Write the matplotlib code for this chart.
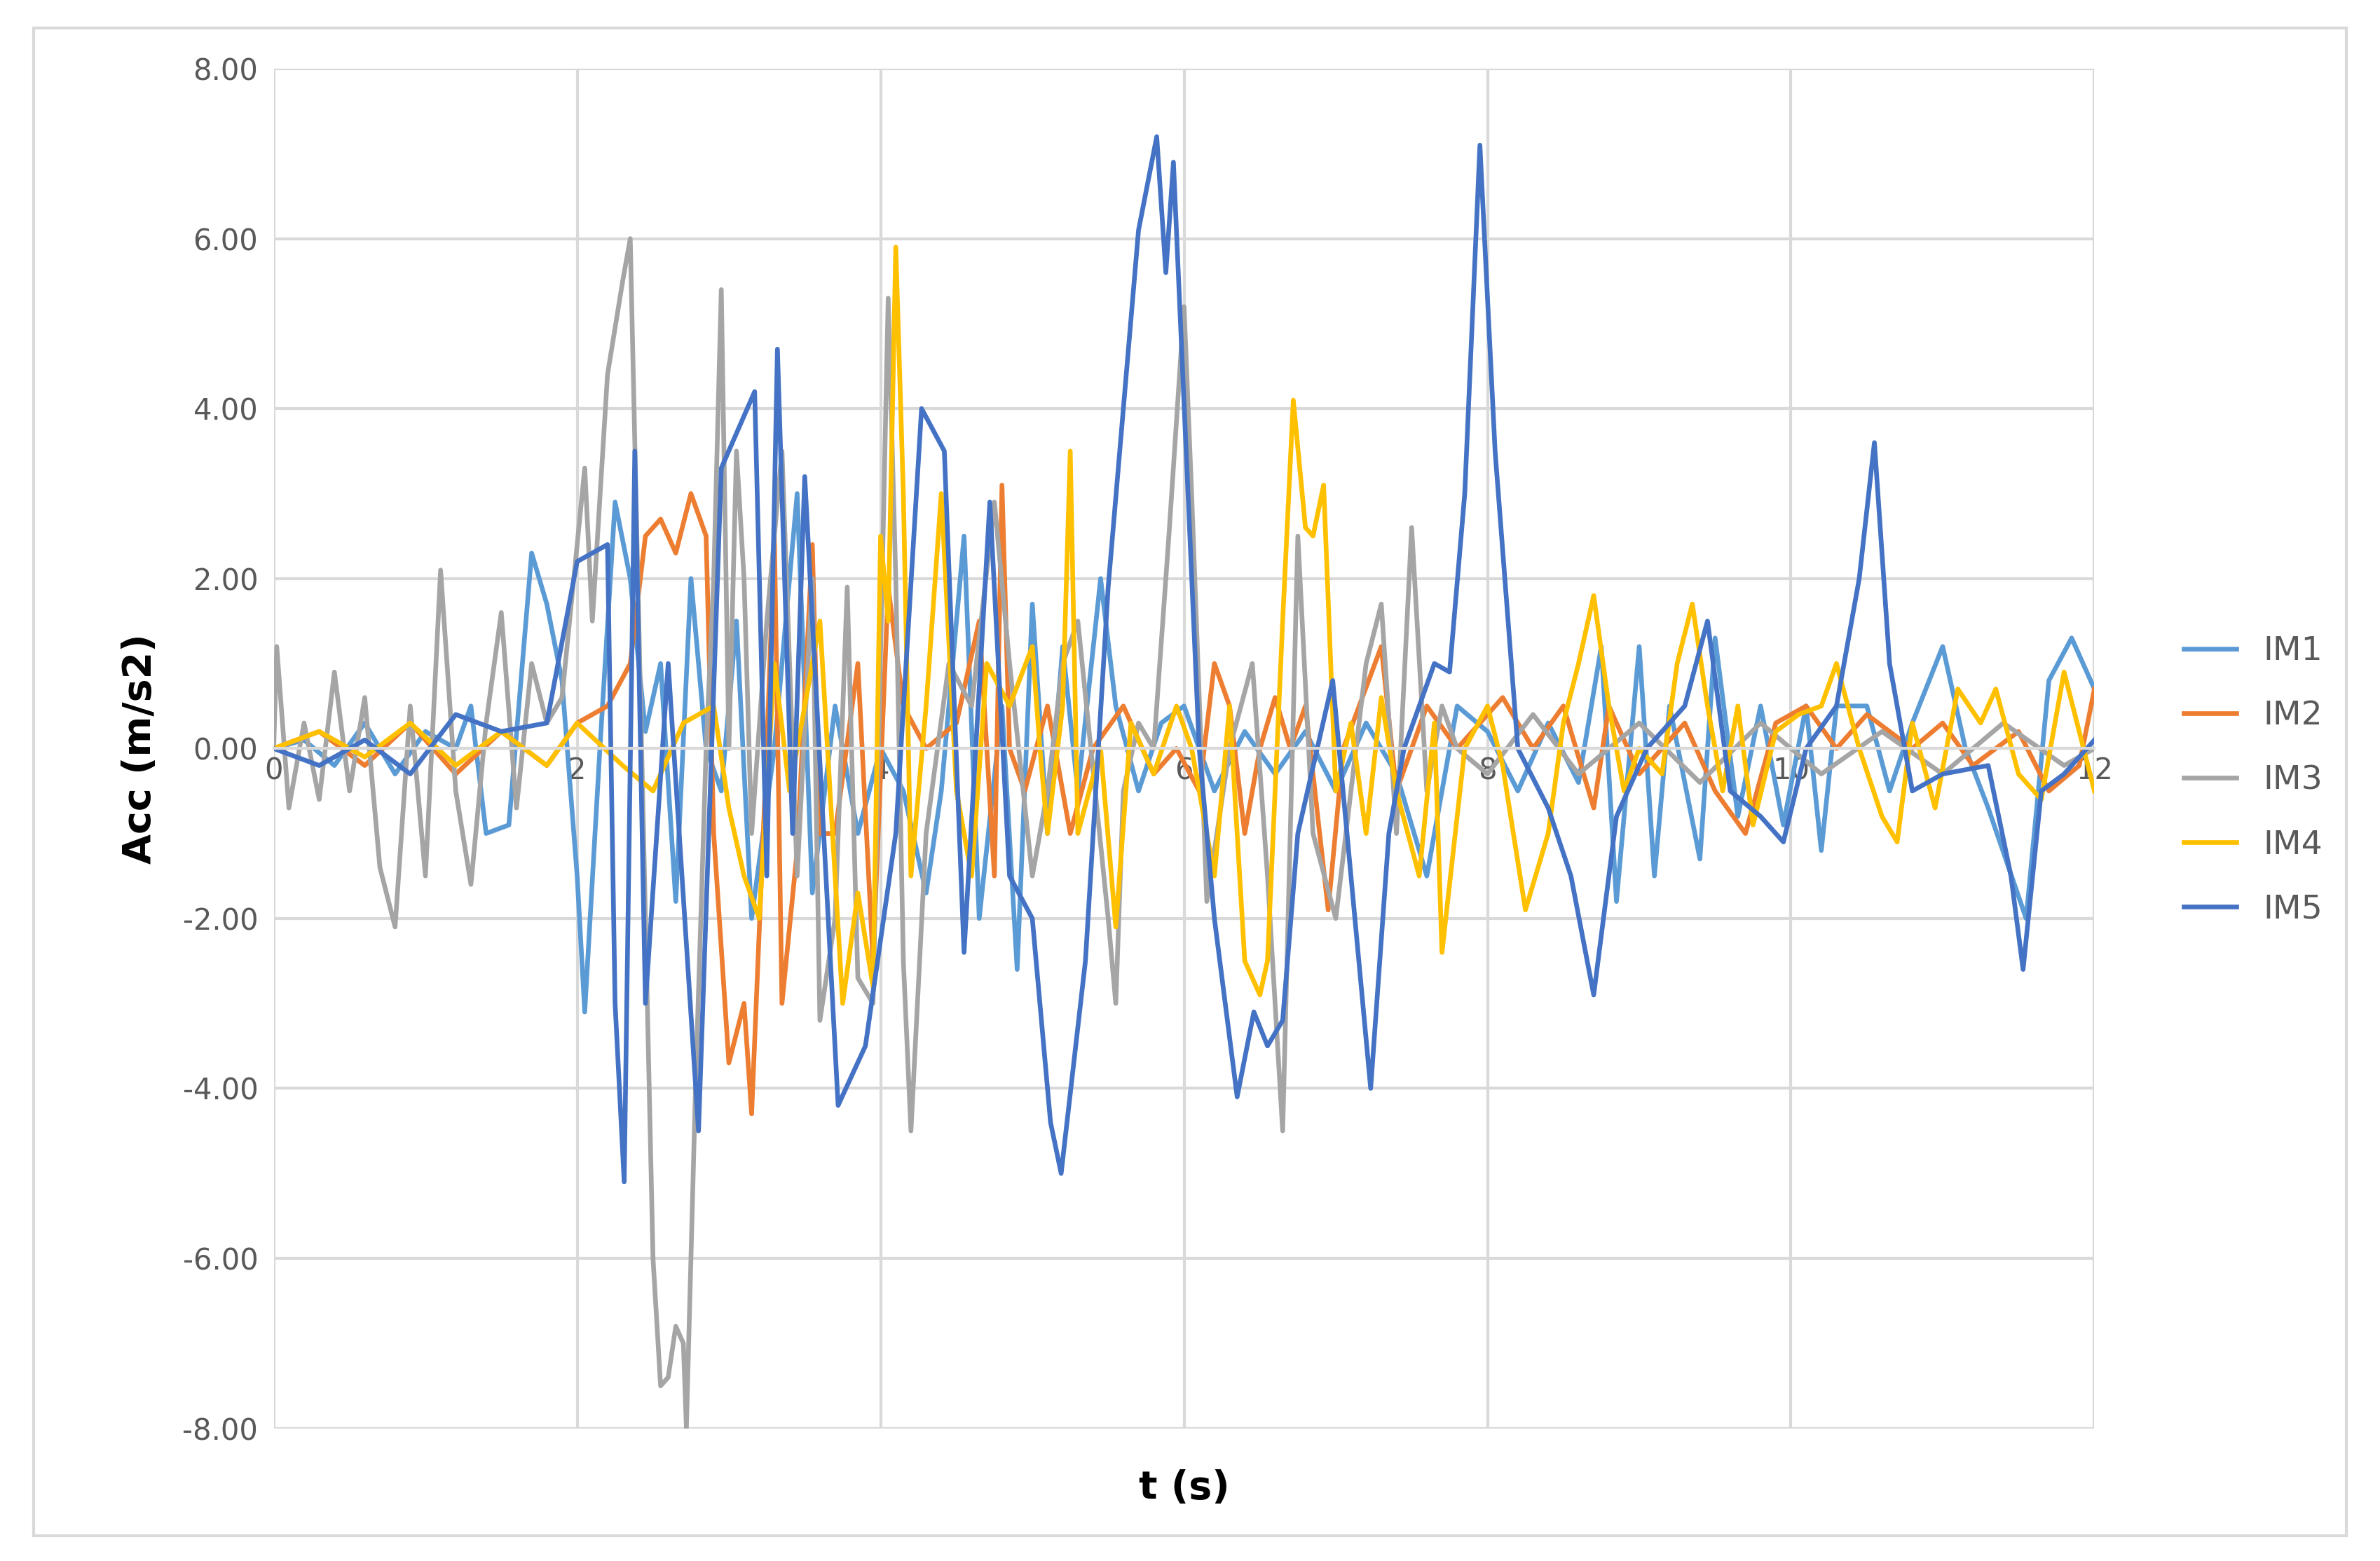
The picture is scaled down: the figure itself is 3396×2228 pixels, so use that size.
import matplotlib
matplotlib.use('Agg')
from matplotlib import pyplot as plt
from matplotlib.patches import Rectangle

# values (t in s, acc in m/s2)
t1 = [0, 0.2, 0.4, 0.6, 0.8, 1.0, 1.2, 1.3, 1.4, 1.55, 1.7, 1.8, 1.9, 2.0, 2.05, 2.15, 2.25, 2.35, 2.45, 2.55, 2.65, 2.75, 2.85, 2.95,
      3.05, 3.15, 3.3, 3.45, 3.55, 3.7, 3.85, 4.0, 4.15, 4.3, 4.4, 4.55, 4.65, 4.8, 4.9, 5.0, 5.1, 5.2, 5.3, 5.45, 5.55, 5.7, 5.85,
      6.0, 6.2, 6.4, 6.6, 6.8, 7.0, 7.2, 7.4, 7.6, 7.8, 8.0, 8.2, 8.4, 8.6, 8.75, 8.85, 9.0, 9.1, 9.2, 9.4, 9.5, 9.65, 9.8, 9.95,
      10.1, 10.2, 10.3, 10.5, 10.65, 10.8, 11.0, 11.15, 11.3, 11.55, 11.7, 11.85, 12.0]
im1 = [0, 0.1, -0.2, 0.3, -0.3, 0.2, 0.0, 0.5, -1.0, -0.9, 2.3, 1.7, 0.8, -1.5, -3.1, 0.0, 2.9, 2.0, 0.2, 1.0, -1.8, 2.0, 0.0, -0.5,
       1.5, -2.0, 0.0, 3.0, -1.7, 0.5, -1.0, 0.0, -0.5, -1.7, -0.5, 2.5, -2.0, 0.5, -2.6, 1.7, -1.0, 1.2, -0.5, 2.0, 0.5, -0.5, 0.3,
       0.5, -0.5, 0.2, -0.3, 0.2, -0.5, 0.3, -0.3, -1.5, 0.5, 0.2, -0.5, 0.3, -0.4, 1.2, -1.8, 1.2, -1.5, 0.5, -1.3, 1.3, -0.8, 0.5, -0.9,
       0.5, -1.2, 0.5, 0.5, -0.5, 0.3, 1.2, 0.0, -0.7, -2.0, 0.8, 1.3, 0.7]

t2 = [0, 0.3, 0.6, 0.9, 1.2, 1.5, 1.8, 2.0, 2.2, 2.35, 2.45, 2.55, 2.65, 2.75, 2.85, 2.9, 3.0, 3.1, 3.15, 3.25, 3.3, 3.35, 3.45, 3.55,
      3.6, 3.7, 3.85, 3.95, 4.05, 4.15, 4.3, 4.5, 4.65, 4.75, 4.8, 4.85, 4.95, 5.1, 5.25, 5.4, 5.6, 5.8, 5.95, 6.1, 6.2, 6.3, 6.4, 6.5,
      6.6, 6.7, 6.8, 6.95, 7.05, 7.3, 7.4, 7.6, 7.8, 8.1, 8.3, 8.5, 8.7, 8.8, 9.0, 9.3, 9.5, 9.7, 9.9, 10.1, 10.3, 10.5, 10.8, 11.0,
      11.2, 11.5, 11.7, 11.9, 12.0]
im2 = [0, 0.2, -0.2, 0.3, -0.3, 0.2, -0.2, 0.3, 0.5, 1.0, 2.5, 2.7, 2.3, 3.0, 2.5, -1.0, -3.7, -3.0, -4.3, 0.0, 2.5, -3.0, -1.2, 2.4,
       -1.0, -1.0, 1.0, -2.5, 1.9, 0.5, 0.0, 0.3, 1.5, -1.5, 3.1, 0.0, -0.5, 0.5, -1.0, 0.0, 0.5, -0.3, 0.0, -0.5, 1.0, 0.5, -1.0, 0.0,
       0.6, 0.0, 0.5, -1.9, 0.0, 1.2, -0.5, 0.5, 0.0, 0.6, 0.0, 0.5, -0.7, 0.5, -0.3, 0.3, -0.5, -1.0, 0.3, 0.5, 0.0, 0.4, 0.0, 0.3,
       -0.2, 0.2, -0.5, -0.2, 0.7]

t3 = [0, 0.02, 0.1, 0.2, 0.3, 0.4, 0.5, 0.6, 0.7, 0.8, 0.9, 1.0, 1.1, 1.2, 1.3, 1.4, 1.5, 1.6, 1.7, 1.8, 1.9, 2.0, 2.05, 2.1, 2.2,
      2.3, 2.35, 2.4, 2.45, 2.5, 2.55, 2.6, 2.65, 2.7, 2.72, 2.78, 2.85, 2.9, 2.95, 3.0, 3.05, 3.1, 3.15, 3.25, 3.35, 3.45, 3.55, 3.6,
      3.7, 3.78, 3.85, 3.95, 4.05, 4.1, 4.15, 4.2, 4.3, 4.45, 4.6, 4.75, 4.85, 5.0, 5.1, 5.2, 5.3, 5.5, 5.55, 5.6, 5.7, 5.8, 5.9, 6.0,
      6.05, 6.15, 6.3, 6.45, 6.55, 6.65, 6.75, 6.85, 7.0, 7.2, 7.3, 7.4, 7.5, 7.6, 7.7, 7.8, 8.0, 8.3, 8.6, 9.0, 9.4, 9.8, 10.2, 10.6,
      11.0, 11.4, 11.8, 12.0]
im3 = [0, 1.2, -0.7, 0.3, -0.6, 0.9, -0.5, 0.6, -1.4, -2.1, 0.5, -1.5, 2.1, -0.5, -1.6, 0.3, 1.6, -0.7, 1.0, 0.3, 0.6, 2.4, 3.3, 1.5, 4.4,
       5.5, 6.0, 2.0, -2.0, -6.0, -7.5, -7.4, -6.8, -7.0, -8.0, -4.0, 0.0, 2.0, 5.4, 0.0, 3.5, 2.0, -1.0, 1.5, 3.5, -1.5, 2.0, -3.2,
       -2.0, 1.9, -2.7, -3.0, 5.3, 2.0, -2.5, -4.5, -1.0, 1.0, 0.5, 2.9, 1.0, -1.5, -0.5, 1.0, 1.5, -2.0, -3.0, -0.5, 0.3, 0.0, 2.5, 5.2,
       3.0, -1.8, 0.0, 1.0, -1.5, -4.5, 2.5, -1.0, -2.0, 1.0, 1.7, -1.0, 2.6, -0.5, 0.5, 0.0, -0.3, 0.4, -0.3, 0.3, -0.4, 0.3, -0.3, 0.2,
       -0.3, 0.3, -0.2, 0.0]

t4 = [0, 0.3, 0.6, 0.9, 1.2, 1.5, 1.8, 2.0, 2.3, 2.5, 2.7, 2.9, 3.0, 3.1, 3.2, 3.3, 3.4, 3.6, 3.75, 3.85, 3.95, 4.0, 4.05, 4.1, 4.15,
      4.2, 4.3, 4.4, 4.5, 4.6, 4.7, 4.85, 5.0, 5.05, 5.1, 5.2, 5.25, 5.3, 5.45, 5.55, 5.65, 5.8, 5.95, 6.05, 6.2, 6.3, 6.4, 6.5, 6.55,
      6.65, 6.72, 6.8, 6.85, 6.92, 7.0, 7.1, 7.2, 7.3, 7.4, 7.55, 7.65, 7.7, 7.85, 8.0, 8.1, 8.25, 8.4, 8.5, 8.6, 8.7, 8.8, 8.9, 9.0,
      9.15, 9.25, 9.35, 9.45, 9.55, 9.65, 9.75, 9.9, 10.05, 10.2, 10.3, 10.45, 10.6, 10.7, 10.8, 10.95, 11.1, 11.25, 11.35, 11.5, 11.65,
      11.8, 11.9, 12.0]
im4 = [0, 0.2, -0.1, 0.3, -0.2, 0.2, -0.2, 0.3, -0.2, -0.5, 0.3, 0.5, -0.7, -1.5, -2.0, 1.0, -0.5, 1.5, -3.0, -1.7, -2.8, 2.5, 1.5,
       5.9, 3.0, -1.5, 0.5, 3.0, -0.5, -1.5, 1.0, 0.5, 1.2, 0.0, -1.0, 0.5, 3.5, -1.0, 0.0, -2.1, 0.3, -0.3, 0.5, 0.0, -1.5, 0.5, -2.5,
       -2.9, -2.5, 1.5, 4.1, 2.6, 2.5, 3.1, -0.5, 0.3, -1.0, 0.6, -0.5, -1.5, 0.3, -2.4, 0.0, 0.5, -0.2, -1.9, -1.0, 0.3, 1.0, 1.8, 0.5,
       -0.5, 0.0, -0.3, 1.0, 1.7, 0.5, -0.5, 0.5, -0.9, 0.2, 0.4, 0.5, 1.0, 0.0, -0.8, -1.1, 0.3, -0.7, 0.7, 0.3, 0.7, -0.3, -0.6, 0.9,
       0.2, -0.5]

t5 = [0, 0.3, 0.6, 0.9, 1.2, 1.5, 1.8, 2.0, 2.2, 2.25, 2.31, 2.38, 2.45, 2.6, 2.8, 2.95, 3.17, 3.25, 3.32, 3.42, 3.5, 3.72, 3.9, 4.1,
      4.27, 4.42, 4.55, 4.72, 4.85, 5.0, 5.12, 5.19, 5.35, 5.5, 5.7, 5.82, 5.88, 5.93, 6.1, 6.2, 6.35, 6.46, 6.55, 6.65, 6.75, 6.98,
      7.1, 7.23, 7.35, 7.45, 7.65, 7.75, 7.85, 7.95, 8.05, 8.2, 8.4, 8.55, 8.7, 8.85, 9.05, 9.3, 9.45, 9.6, 9.8, 9.95, 10.1, 10.3,
      10.45, 10.55, 10.65, 10.8, 11.0, 11.3, 11.45, 11.53, 11.65, 11.8, 12.0]
im5 = [0, -0.2, 0.1, -0.3, 0.4, 0.2, 0.3, 2.2, 2.4, -3.0, -5.1, 3.5, -3.0, 1.0, -4.5, 3.3, 4.2, -1.5, 4.7, -1.0, 3.2, -4.2, -3.5,
       -1.0, 4.0, 3.5, -2.4, 2.9, -1.5, -2.0, -4.4, -5.0, -2.5, 1.9, 6.1, 7.2, 5.6, 6.9, 0.0, -2.0, -4.1, -3.1, -3.5, -3.2, -1.0, 0.8,
       -1.5, -4.0, -1.0, 0.0, 1.0, 0.9, 3.0, 7.1, 3.5, 0.0, -0.7, -1.5, -2.9, -0.8, 0.0, 0.5, 1.5, -0.5, -0.8, -1.1, 0.0, 0.5, 2.0, 3.6,
       1.0, -0.5, -0.3, -0.2, -1.5, -2.6, -0.5, -0.3, 0.1]

names = ['IM1', 'IM2', 'IM3', 'IM4', 'IM5']
colors = ['#5B9BD5', '#ED7D31', '#A5A5A5', '#FFC000', '#4472C4']
series = [(t1, im1), (t2, im2), (t3, im3), (t4, im4), (t5, im5)]

fig = plt.figure(figsize=(16.98, 11.14), dpi=200)
fig.patches.append(Rectangle((0.014, 0.016), 0.972, 0.966, transform=fig.transFigure,
                             fill=False, edgecolor='#D9D9D9', linewidth=1.5))
ax = fig.add_axes([0.115, 0.085, 0.765, 0.871])

for (t, v), n, c in zip(series, names, colors):
    ax.plot(t, v, color=c, linewidth=2.4, label=n)

ax.set_xlim(0, 12)
ax.set_ylim(-8, 8)
ax.set_xticks(range(0, 13, 2))
ax.set_yticks(range(-8, 9, 2))
ax.set_yticklabels(['%.2f' % y for y in range(-8, 9, 2)])
ax.grid(True, color='#D9D9D9', linewidth=1.5)
ax.set_axisbelow(True)
for s in ax.spines.values():
    s.set_visible(False)
ax.spines['bottom'].set_visible(True)
ax.spines['bottom'].set_position(('data', 0))
ax.spines['bottom'].set_color('#D9D9D9')
ax.spines['bottom'].set_linewidth(1.5)
ax.tick_params(length=0, labelsize=15, colors='#595959', pad=8)
ax.tick_params(axis='x', pad=4)
ax.set_xlabel('t (s)', fontsize=20, fontweight='bold', labelpad=8)
ax.set_ylabel('Acc (m/s2)', fontsize=20, fontweight='bold', labelpad=12)
ax.xaxis.set_label_coords(0.5, -0.03)

ax.legend(loc='center left', bbox_to_anchor=(0.905, 0.5), bbox_transform=fig.transFigure,
          frameon=False, fontsize=17, handlelength=1.6, labelspacing=1.0, labelcolor='#595959')

plt.savefig('out.png', dpi=200)
